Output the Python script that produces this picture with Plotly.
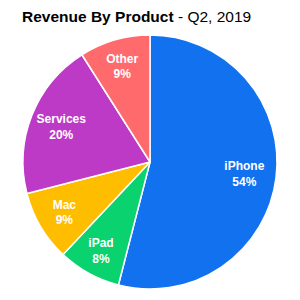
import plotly.graph_objects as go

labels = ["iPhone", "iPad", "Mac", "Services", "Other"]
values = [54, 8, 9, 20, 9]
colors = ["#1271EF", "#0AD26E", "#FFBD00", "#BD3AC6", "#FF6A6D"]

fig = go.Figure()
# filled pie
fig.add_trace(go.Pie(
    labels=labels, values=values, sort=False, direction="clockwise", rotation=0,
    marker=dict(colors=colors, line=dict(color="white", width=1.5)),
    textinfo="none", showlegend=False, hoverinfo="label+percent",
))
# label layer (transparent ring so text sits toward the rim)
fig.add_trace(go.Pie(
    labels=labels, values=values, sort=False, direction="clockwise", rotation=0,
    hole=0.5,
    marker=dict(colors=["rgba(0,0,0,0)"] * len(labels), line=dict(width=0)),
    texttemplate="<b>%{label}<br>%{value}%</b>",
    textposition="inside",
    insidetextorientation="horizontal",
    textfont=dict(color="white", size=12, family="Liberation Sans"),
    showlegend=False, hoverinfo="skip",
))

fig.update_layout(
    width=300, height=300,
    margin=dict(l=23, r=23, t=35, b=11),
    paper_bgcolor="white",
    title=dict(
        text="<b>Revenue By Product</b> - Q2, 2019",
        x=22/300, xanchor="left", y=1-17/300, yanchor="middle",
        font=dict(size=15.5, color="black", family="Liberation Sans"),
    ),
)

fig.write_html("out.html")
